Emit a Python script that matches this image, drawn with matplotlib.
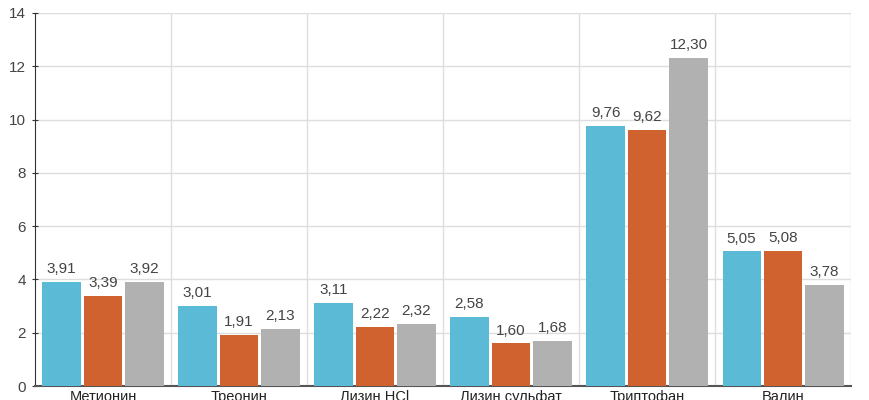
import numpy as np
import matplotlib.pyplot as plt

# данные
categories = ['Метионин', 'Треонин', 'Лизин HCl', 'Лизин сульфат', 'Триптофан', 'Валин']
series_1 = [3.91, 3.01, 3.11, 2.58, 9.76, 5.05]
series_2 = [3.39, 1.91, 2.22, 1.60, 9.62, 5.08]
series_3 = [3.92, 2.13, 2.32, 1.68, 12.30, 3.78]
colors = ['#5BBAD6', '#D06230', '#B1B1B1']

plt.rcParams['font.family'] = ['Liberation Sans', 'DejaVu Sans']

fig = plt.figure(figsize=(8.7, 4.0), dpi=100)
ax = fig.add_axes([0.0402, 0.035, 0.938, 0.9325])

x = np.arange(len(categories))
width = 0.28
step = 0.305
for i, (vals, c) in enumerate(zip([series_1, series_2, series_3], colors)):
    bars = ax.bar(x + (i - 1) * step, vals, width, color=c, zorder=3)
    for b, v in zip(bars, vals):
        ax.text(b.get_x() + b.get_width() / 2, v + 0.22, f'{v:.2f}'.replace('.', ','),
                ha='center', va='bottom', fontsize=11, color='#444444')

ax.set_xlim(-0.5, len(categories) - 0.5)
ax.set_ylim(0, 14)
ax.set_yticks(range(0, 15, 2))
ax.set_xticks(x)
ax.set_xticklabels(categories, fontsize=10.5, color='#222222')
ax.tick_params(axis='x', length=0, pad=3)
ax.tick_params(axis='y', labelsize=11, labelcolor='#444444', length=5, direction='inout',
               color='#333333', pad=4)

# сетка
ax.set_axisbelow(True)
ax.yaxis.grid(True, color='#DDDDDD', linewidth=1)
for b in np.arange(0.5, len(categories), 1.0):
    ax.axvline(b, color='#DDDDDD', linewidth=1, zorder=0)

for s in ['top', 'right']:
    ax.spines[s].set_visible(False)
ax.spines['left'].set_color('#333333')
ax.spines['bottom'].set_color('#555555')
ax.spines['bottom'].set_linewidth(1.5)

plt.savefig('out.png', dpi=100)
